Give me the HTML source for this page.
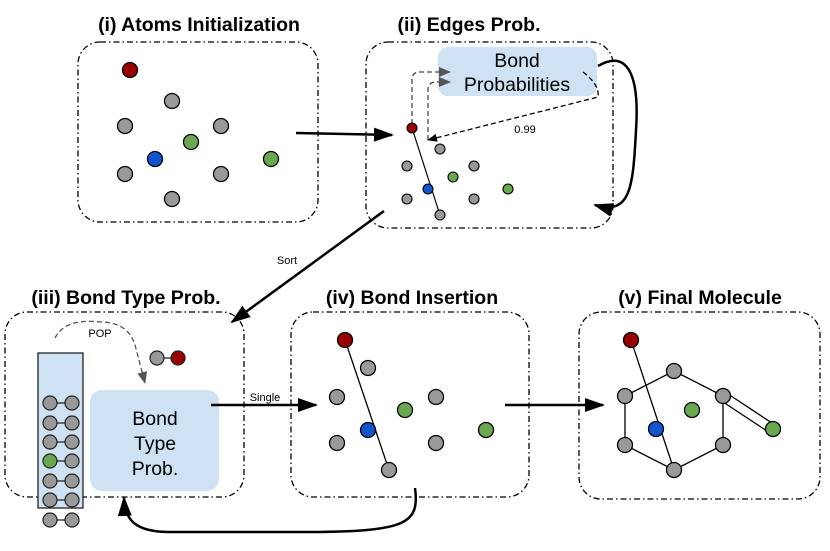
<!DOCTYPE html>
<html><head><meta charset="utf-8"><style>
html,body{margin:0;padding:0;background:#fff;}
svg{display:block;font-family:"Liberation Sans",Arial,sans-serif;}
</style></head><body>
<svg width="830" height="551" viewBox="0 0 830 551" xmlns="http://www.w3.org/2000/svg">
<defs>
<marker id="ah" markerWidth="10" markerHeight="8" refX="9" refY="4" orient="auto" markerUnits="userSpaceOnUse"><path d="M0,0 L10,4 L0,8 Z" fill="#000"/></marker>
<marker id="ahb" markerWidth="20" markerHeight="14" refX="18" refY="7" orient="auto" markerUnits="userSpaceOnUse"><path d="M0,0 L20,7 L0,14 Z" fill="#000"/></marker>
<marker id="ahg" markerWidth="12" markerHeight="10" refX="11" refY="5" orient="auto" markerUnits="userSpaceOnUse"><path d="M0,0 L12,5 L0,10 Z" fill="#555"/></marker>
</defs>
<g fill="none" stroke="#000" stroke-width="1.3" stroke-dasharray="6,3,1.5,3">
<rect x="78" y="42" width="240" height="180" rx="22"/>
<rect x="366" y="42" width="247" height="186" rx="22"/>
<rect x="5" y="312" width="239" height="185" rx="22"/>
<rect x="291" y="312" width="238" height="185" rx="22"/>
<rect x="579" y="312" width="241" height="187" rx="22"/>
</g>
<g font-weight="bold" font-size="19.5" text-anchor="middle" fill="#000">
<text x="199" y="31">(i) Atoms Initialization</text>
<text x="469" y="31">(ii) Edges Prob.</text>
<text x="126" y="304">(iii) Bond Type Prob.</text>
<text x="412" y="304">(iv) Bond Insertion</text>
<text x="700" y="304">(v) Final Molecule</text>
</g>
<g stroke="#000" stroke-width="1.3">
<circle cx="130" cy="70" r="7.5" fill="#990000"/>
<circle cx="172" cy="101" r="7.5" fill="#999"/>
<circle cx="125" cy="126" r="7.5" fill="#999"/>
<circle cx="221" cy="126" r="7.5" fill="#999"/>
<circle cx="191" cy="142" r="7.5" fill="#6aa84f"/>
<circle cx="155" cy="159" r="7.5" fill="#1155cc"/>
<circle cx="125" cy="174" r="7.5" fill="#999"/>
<circle cx="221" cy="174" r="7.5" fill="#999"/>
<circle cx="172" cy="199" r="7.5" fill="#999"/>
<circle cx="271" cy="159" r="7.5" fill="#6aa84f"/>
</g>
<rect x="438" y="47" width="159" height="49" rx="10" fill="#cfe2f3"/>
<text x="517" y="67" font-size="19.5" text-anchor="middle">Bond</text>
<text x="517" y="91" font-size="19.5" text-anchor="middle">Probabilities</text>
<g fill="none" stroke="#444" stroke-width="1.3" stroke-dasharray="5,3">
<path d="M412,124 L412,80 Q412,72 420,72 L450,72" marker-end="url(#ahg)"/>
<path d="M428,140 L428,90 Q428,82 436,82 L450,82" marker-end="url(#ahg)"/>
</g>
<path d="M583,72 Q600,85 598,97 L428,140" fill="none" stroke="#000" stroke-width="1.3" stroke-dasharray="5,3" marker-end="url(#ah)"/>
<text x="525" y="133" font-size="11" text-anchor="middle">0.99</text>
<line x1="412" y1="128" x2="440" y2="215" stroke="#000" stroke-width="1.2"/>
<g stroke="#000" stroke-width="1.1">
<circle cx="412" cy="128" r="5" fill="#990000"/>
<circle cx="440" cy="149" r="5" fill="#999"/>
<circle cx="407" cy="166" r="5" fill="#999"/>
<circle cx="474" cy="166" r="5" fill="#999"/>
<circle cx="453" cy="177" r="5" fill="#6aa84f"/>
<circle cx="428" cy="189" r="5" fill="#1155cc"/>
<circle cx="407" cy="199" r="5" fill="#999"/>
<circle cx="474" cy="199" r="5" fill="#999"/>
<circle cx="440" cy="215" r="5" fill="#999"/>
<circle cx="508" cy="189" r="5" fill="#6aa84f"/>
</g>
<path d="M598,66 C625,50 640,70 636,130 C633,190 630,215 595,205" fill="none" stroke="#000" stroke-width="2.5" marker-end="url(#ahb)"/>
<line x1="296" y1="133" x2="392" y2="135" stroke="#000" stroke-width="2.5" marker-end="url(#ahb)"/>
<line x1="384" y1="211" x2="232" y2="322" stroke="#000" stroke-width="2.5" marker-end="url(#ahb)"/>
<text x="287" y="264" font-size="11" text-anchor="middle">Sort</text>
<rect x="38" y="353" width="45" height="155" fill="#cfe2f3" stroke="#222" stroke-width="1.3"/>
<g stroke="#222" stroke-width="1.2">
<line x1="50" y1="403" x2="72" y2="403"/><line x1="50" y1="423" x2="72" y2="423"/><line x1="50" y1="442" x2="72" y2="442"/><line x1="50" y1="461" x2="72" y2="461"/><line x1="50" y1="481" x2="72" y2="481"/><line x1="50" y1="500" x2="72" y2="500"/><line x1="50" y1="520" x2="72" y2="520"/><line x1="157" y1="358" x2="178" y2="358"/>
<g fill="#999">
<circle cx="50" cy="403" r="7"/><circle cx="72" cy="403" r="7"/>
<circle cx="50" cy="423" r="7"/><circle cx="72" cy="423" r="7"/>
<circle cx="50" cy="442" r="7"/><circle cx="72" cy="442" r="7"/>
<circle cx="50" cy="461" r="7" fill="#6aa84f"/><circle cx="72" cy="461" r="7"/>
<circle cx="50" cy="481" r="7"/><circle cx="72" cy="481" r="7"/>
<circle cx="50" cy="500" r="7"/><circle cx="72" cy="500" r="7"/>
<circle cx="50" cy="520" r="7"/><circle cx="72" cy="520" r="7"/>
<circle cx="157" cy="358" r="7"/><circle cx="178" cy="358" r="7" fill="#990000"/>
</g></g>
<rect x="90" y="390" width="129" height="101" rx="12" fill="#cfe2f3"/>
<g font-size="19.5" text-anchor="middle"><text x="155" y="425">Bond</text><text x="155" y="450">Type</text><text x="155" y="475">Prob.</text></g>
<path d="M55,338 Q65,318 100,322 Q128,322 135,345 L145,383" fill="none" stroke="#555" stroke-width="1.3" stroke-dasharray="5,3" marker-end="url(#ahg)"/>
<text x="100" y="337" font-size="11" text-anchor="middle">POP</text>
<line x1="211" y1="405" x2="316" y2="405" stroke="#000" stroke-width="2.5" marker-end="url(#ahb)"/>
<text x="265" y="401" font-size="11" text-anchor="middle">Single</text>
<line x1="345" y1="340" x2="389" y2="470" stroke="#000" stroke-width="1.3"/>
<g stroke="#000" stroke-width="1.3">
<circle cx="345" cy="340" r="7.5" fill="#990000"/>
<circle cx="368" cy="368" r="7.5" fill="#999"/>
<circle cx="337" cy="397" r="7.5" fill="#999"/>
<circle cx="436" cy="397" r="7.5" fill="#999"/>
<circle cx="405" cy="410" r="7.5" fill="#6aa84f"/>
<circle cx="368" cy="430" r="7.5" fill="#1155cc"/>
<circle cx="337" cy="443" r="7.5" fill="#999"/>
<circle cx="436" cy="443" r="7.5" fill="#999"/>
<circle cx="389" cy="470" r="7.5" fill="#999"/>
<circle cx="486" cy="430" r="7.5" fill="#6aa84f"/>
</g>
<line x1="505" y1="405" x2="603" y2="405" stroke="#000" stroke-width="2.5" marker-end="url(#ahb)"/>
<path d="M415,488 C420,525 405,532 300,532 L170,532 C135,532 125,520 124,498" fill="none" stroke="#000" stroke-width="2.5" marker-end="url(#ahb)"/>
<g stroke="#000" stroke-width="1.3" fill="none">
<polygon points="674,371 723,396 723,445 674,470 625,445 625,396"/>
<line x1="631" y1="340" x2="674" y2="470"/>
<line x1="725" y1="392" x2="775" y2="425"/>
<line x1="720" y1="400" x2="770" y2="433"/>
</g>
<g stroke="#000" stroke-width="1.3">
<circle cx="631" cy="340" r="7.5" fill="#990000"/>
<circle cx="674" cy="371" r="7.5" fill="#999"/>
<circle cx="625" cy="396" r="7.5" fill="#999"/>
<circle cx="723" cy="396" r="7.5" fill="#999"/>
<circle cx="692" cy="410" r="7.5" fill="#6aa84f"/>
<circle cx="656" cy="429" r="7.5" fill="#1155cc"/>
<circle cx="625" cy="445" r="7.5" fill="#999"/>
<circle cx="723" cy="445" r="7.5" fill="#999"/>
<circle cx="674" cy="470" r="7.5" fill="#999"/>
<circle cx="773" cy="429" r="7.5" fill="#6aa84f"/>
</g>
</svg>
</body></html>
